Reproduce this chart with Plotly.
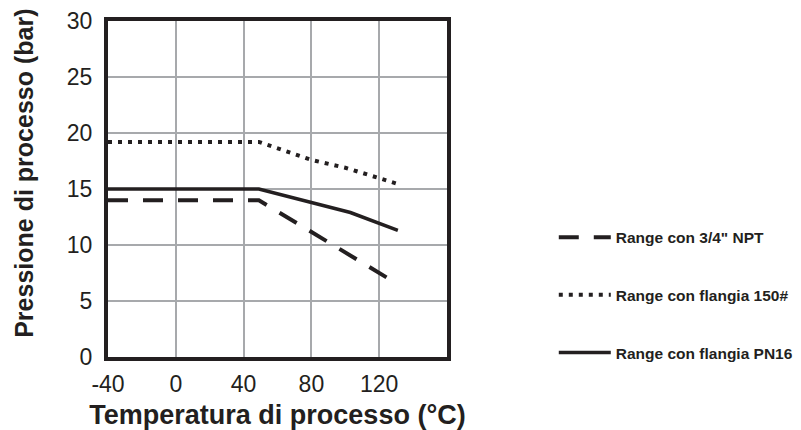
import plotly.graph_objects as go

# Data
series_names = ['Range con 3/4" NPT', 'Range con flangia 150#', 'Range con flangia PN16']
npt_temp = [-40, 49, 131]
npt_pres = [14.0, 14.0, 6.5]
f150_temp = [-40, 49, 80, 100, 130]
f150_pres = [19.2, 19.2, 17.6, 16.9, 15.5]
pn16_temp = [-40, 49, 103, 131]
pn16_pres = [15.0, 15.0, 12.9, 11.3]

x_ticks = [-40, 0, 40, 80, 120]
y_ticks = [0, 5, 10, 15, 20, 25, 30]

x_title = 'Temperatura di processo (°C)'
y_title = 'Pressione di processo (bar)'

INK = '#231f20'
GRID = '#a7a9ac'
FONT = 'Liberation Sans, Arial, sans-serif'

fig = go.Figure()
fig.add_trace(go.Scatter(x=npt_temp, y=npt_pres, mode='lines', name=series_names[0],
                         legendgroup='a',
                         line=dict(color=INK, width=4, dash='20px,15px')))
fig.add_trace(go.Scatter(x=f150_temp, y=f150_pres, mode='lines', name=series_names[1],
                         legendgroup='b',
                         line=dict(color=INK, width=4, dash='4px,6px')))
fig.add_trace(go.Scatter(x=pn16_temp, y=pn16_pres, mode='lines', name=series_names[2],
                         legendgroup='c',
                         line=dict(color=INK, width=3.5)))

fig.update_layout(
    width=793, height=422,
    margin=dict(l=100, r=354, t=13, b=73, autoexpand=False),
    paper_bgcolor='white', plot_bgcolor='white',
    font=dict(family=FONT, color=INK),
    showlegend=True,
    legend=dict(x=1.315, y=0.406, xanchor='left', yanchor='top',
                font=dict(family=FONT, size=15.5, color=INK, weight='bold'),
                itemwidth=52,
                tracegroupgap=34.5, bgcolor='rgba(0,0,0,0)'),
    xaxis=dict(range=[-40, 160], tickvals=x_ticks, ticktext=[str(v) for v in x_ticks],
               showgrid=True, gridcolor=GRID, gridwidth=2,
               showline=True, linecolor=INK, linewidth=4, mirror=True,
               zeroline=False, ticks='', tickfont=dict(size=23, color=INK),
               ticklabelstandoff=3, automargin=False,
               title=dict(text=x_title, standoff=17,
                          font=dict(size=27, color=INK, weight='bold'))),
    yaxis=dict(range=[0, 30], tickvals=y_ticks,
               showgrid=True, gridcolor=GRID, gridwidth=2,
               showline=True, linecolor=INK, linewidth=4, mirror=True,
               zeroline=False, ticks='', tickfont=dict(size=23, color=INK),
               ticklabelstandoff=7, automargin=False),
    annotations=[dict(text=y_title, textangle=-90, xref='paper', yref='paper',
                      x=-0.248, y=0.548, xanchor='center', yanchor='middle',
                      showarrow=False,
                      font=dict(family=FONT, size=25, color=INK, weight='bold'))],
)

fig.write_html('out.html')
